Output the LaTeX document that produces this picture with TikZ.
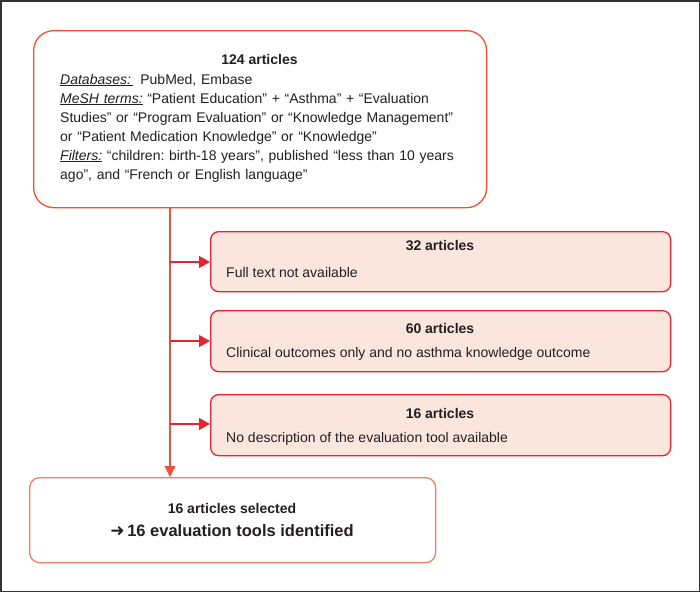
\documentclass[tikz,border=0pt]{standalone}
\usepackage{fontspec}
\setmainfont{Liberation Sans}
\newfontfamily\symfont{DejaVu Sans}
\usetikzlibrary{arrows.meta}
\definecolor{topc}{HTML}{EE5138}
\definecolor{exc}{HTML}{E52632}
\definecolor{excfill}{HTML}{FBE6DD}
\definecolor{botc}{HTML}{F07F62}
\definecolor{framec}{HTML}{333333}
\definecolor{txt}{HTML}{231F20}
\tikzset{
  topbox/.style={draw=topc, line width=1.3pt, rounded corners=20pt, fill=white},
  excbox/.style={draw=exc, line width=1.3pt, rounded corners=8pt, fill=excfill},
  botbox/.style={draw=botc, line width=1.3pt, rounded corners=10pt, fill=white},
  lbl/.style={inner sep=0pt, text=txt, font=\fontsize{14}{19}\selectfont\frenchspacing},
  hd/.style={inner sep=0pt, text=txt, font=\fontsize{14}{19}\selectfont\bfseries},
  branch/.style={draw=exc, line width=1.3pt, -{Triangle[length=11pt,width=12pt]}},
  trunk/.style={draw=topc, line width=1.3pt},
}
\begin{document}
\begin{tikzpicture}[x=1pt,y=-1pt]
\useasboundingbox (0,0) rectangle (700,592);
\draw[framec, line width=1.5pt] (0.75,0.75) rectangle (699.25,591.25);
% top box
\node[topbox, minimum width=453pt, minimum height=177pt, anchor=north west] (top) at (33,30) {};
\node[hd, anchor=base] (t1) at (259.5,64) {124 articles};
\node[lbl, anchor=base west, align=left, text width=420pt] (t2) at (60,84)
{\underline{\textit{Databases:}\,}\, PubMed, Embase\\
\underline{\textit{MeSH terms:}} “Patient Education” + “Asthma” + “Evaluation\\
Studies” or “Program Evaluation” or “Knowledge Management”\\
or “Patient Medication Knowledge” or “Knowledge”\\
\underline{\textit{Filters:}} “children: birth-18 years”, published “less than 10 years\\
ago”, and “French or English language”};
% exclusion boxes
\node[excbox, minimum width=460pt, minimum height=60pt, anchor=north west] (e1) at (210,231) {};
\node[excbox, minimum width=460pt, minimum height=61pt, anchor=north west] (e2) at (210,310) {};
\node[excbox, minimum width=460pt, minimum height=61pt, anchor=north west] (e3) at (210,394) {};
\node[hd, anchor=base] (e1h) at (440,250) {32 articles};
\node[lbl, anchor=base west] (e1t) at (226,277) {Full text not available};
\node[hd, anchor=base] (e2h) at (440,333) {60 articles};
\node[lbl, anchor=base west] (e2t) at (226,357) {Clinical outcomes only and no asthma knowledge outcome};
\node[hd, anchor=base] (e3h) at (440,418) {16 articles};
\node[lbl, anchor=base west] (e3t) at (226,442) {No description of the evaluation tool available};
% bottom box
\node[botbox, minimum width=406pt, minimum height=85pt, anchor=north west] (bot) at (29,477) {};
\node[hd, anchor=base] (b1) at (232,513) {16 articles selected};
\node[inner sep=0pt, text=txt, font=\fontsize{16.5}{19}\selectfont\bfseries, anchor=base] (b2) at (232,536) {{\symfont\fontsize{17}{19}\selectfont ➜}\,16 evaluation tools identified};
% connectors
\coordinate (s) at (170,207);
\draw[trunk] (s) -- (170,466);
\fill[topc] (164.5,466) -- (175.5,466) -- (170,477) -- cycle;
\draw[branch] (170,262) -- (e1.west |- 0,262);
\draw[branch] (170,341) -- (e2.west |- 0,341);
\draw[branch] (170,424) -- (e3.west |- 0,424);
\end{tikzpicture}
\end{document}
